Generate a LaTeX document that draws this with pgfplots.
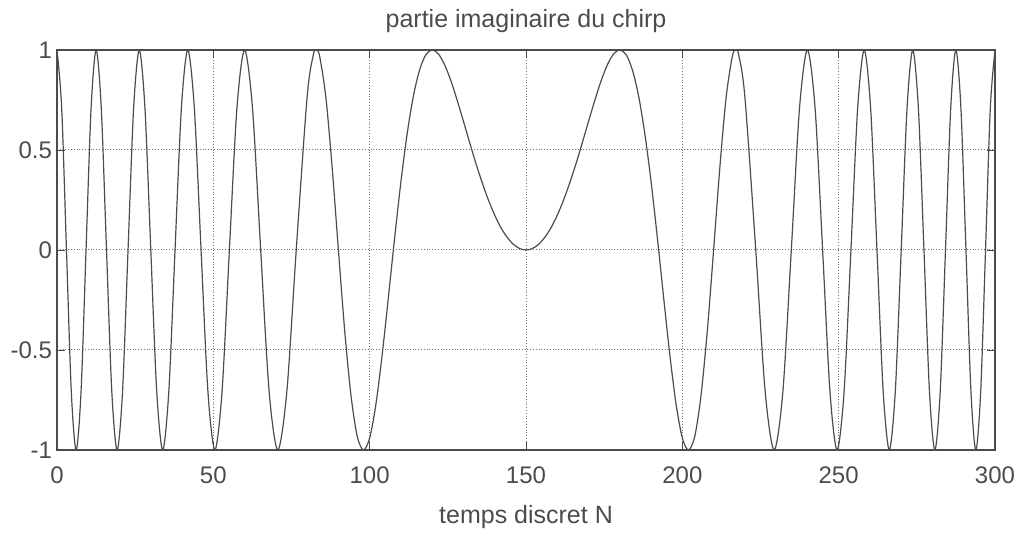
\documentclass[border=0pt]{standalone}
\usepackage{fontspec}
\setmainfont{Liberation Sans}
\usepackage{pgfplots}
\pgfplotsset{compat=1.18}
\definecolor{ink}{gray}{0.30}
\definecolor{gridc}{gray}{0.45}
\begin{document}
\begin{tikzpicture}[x=1pt,y=1pt]
\path[use as bounding box] (-28.5,-42.5) rectangle (482,225);
\begin{axis}[
  at={(0,0)}, anchor=south west,
  scale only axis, width=469pt, height=200pt,
  xmin=0, xmax=300, ymin=-1, ymax=1,
  xtick={0,50,...,300}, ytick={-1,-0.5,0,0.5,1},
  yticklabels={-1,-0.5,0,0.5,1},
  tick align=inside, major tick length=4pt,
  grid=major, major grid style={gridc, densely dotted, line width=0.5pt},
  axis line style={ink, line width=0.6pt},
  tick style={ink},
  ticklabel style={font=\fontsize{12}{14}\selectfont, text=ink},
  /pgf/number format/assume math mode=true,
  xticklabel style={yshift=-5pt},
  yticklabel style={xshift=1pt},
  title={partie imaginaire du chirp},
  title style={font=\fontsize{12.5}{14}\selectfont, text=ink, yshift=-1pt},
  xlabel={temps discret N},
  xlabel style={font=\fontsize{12.5}{14}\selectfont, text=ink, yshift=-4pt},
  clip=true,
]
\addplot[ink, line width=0.6pt, smooth, tension=0.5] coordinates {
(0.000,1) (1.508,0.707) (3.031,0) (4.570,-0.707) (6.125,-1) (7.698,-0.707)
(9.288,0) (10.896,0.707) (12.523,1) (14.169,0.707) (15.836,0) (17.523,-0.707)
(19.233,-1) (20.965,-0.707) (22.721,0) (24.501,0.707) (26.307,1) (28.139,0.707)
(30.000,0) (31.890,-0.707) (33.810,-1) (35.763,-0.707) (37.750,0) (39.773,0.707)
(41.833,1) (43.934,0.707) (46.077,0) (48.265,-0.707) (50.501,-1) (52.789,-0.707)
(55.132,0) (57.534,0.707) (60.000,1) (62.536,0.707) (65.147,0) (67.842,-0.707)
(70.627,-1) (73.515,-0.707) (76.515,0)
(80,0.766) (82,0.977) (82.918,1) (84,0.969) (86,0.762) (88,0.413) (90,0)
(92,-0.401) (94,-0.724) (96,-0.930) (98,-1) (100,-0.940) (102,-0.771)
(104,-0.524) (106,-0.235) (108,0.063) (110,0.342) (112,0.582) (114,0.771)
(116,0.902) (118,0.977) (120,1) (122,0.980) (124,0.925) (126,0.845)
(128,0.748) (130,0.643) (132,0.536) (134,0.432) (136,0.336) (138,0.249)
(140,0.174) (142,0.111) (144,0.063) (146,0.028) (148,0.007) (150,0)
(152,0.007) (154,0.028) (156,0.063) (158,0.111) (160,0.174) (162,0.249)
(164,0.336) (166,0.432) (168,0.536) (170,0.643) (172,0.748) (174,0.845)
(176,0.925) (178,0.980) (180,1) (182,0.977) (184,0.902) (186,0.771)
(188,0.582) (190,0.342) (192,0.063) (194,-0.235) (196,-0.524) (198,-0.771)
(200,-0.940) (202,-1) (204,-0.930) (206,-0.724) (208,-0.401) (210,0)
(212,0.413) (214,0.762) (216,0.969) (217.082,1) (218,0.977) (220,0.766)
(223.485,0) (226.485,-0.707) (229.373,-1) (232.158,-0.707) (234.853,0) (237.464,0.707)
(240.000,1) (242.466,0.707) (244.868,0) (247.211,-0.707) (249.499,-1) (251.735,-0.707)
(253.923,0) (256.066,0.707) (258.167,1) (260.227,0.707) (262.250,0) (264.237,-0.707)
(266.190,-1) (268.110,-0.707) (270.000,0) (271.861,0.707) (273.693,1) (275.499,0.707)
(277.279,0) (279.035,-0.707) (280.767,-1) (282.477,-0.707) (284.164,0) (285.831,0.707)
(287.477,1) (289.104,0.707) (290.712,0) (292.302,-0.707) (293.875,-1) (295.430,-0.707)
(296.969,0) (298.492,0.707) (300.000,1)
};
\end{axis}
\end{tikzpicture}
\end{document}
